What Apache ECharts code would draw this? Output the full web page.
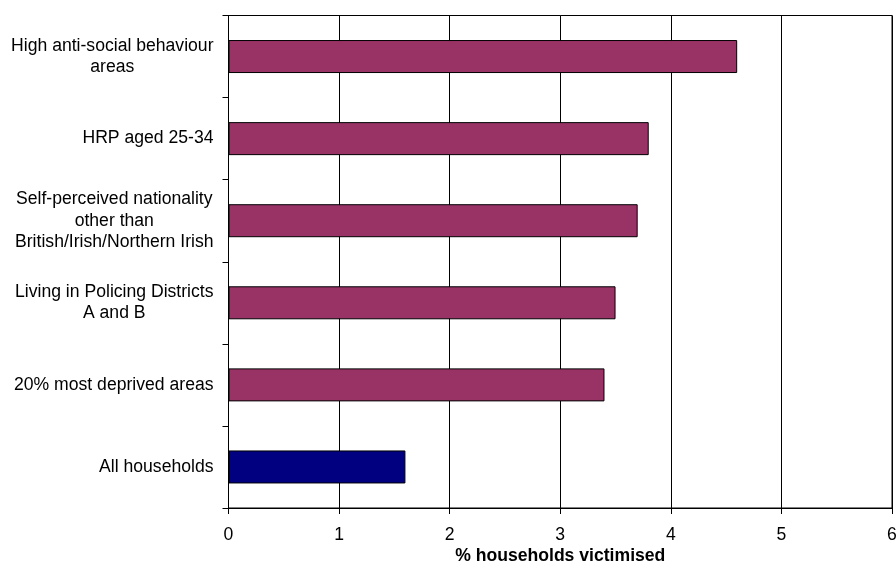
<!DOCTYPE html>
<html>
<head>
<meta charset="utf-8">
<script src="https://cdn.jsdelivr.net/npm/echarts@6/dist/echarts.min.js"></script>
<style>
  html, body { margin: 0; padding: 0; background: #fff; }
  #main { width: 896px; height: 561px; }
</style>
</head>
<body>
<div id="main"></div>
<script>
// categories top to bottom
const categories = [
  'High anti-social behaviour\nareas',
  'HRP aged 25-34',
  'Self-perceived nationality\nother than\nBritish/Irish/Northern Irish',
  'Living in Policing Districts\nA and B',
  '20% most deprived areas',
  'All households'
];
const values = [4.6, 3.8, 3.7, 3.5, 3.4, 1.6];
const barColors = ['#993366', '#993366', '#993366', '#993366', '#993366', '#000080'];
const xTicks = [0, 1, 2, 3, 4, 5, 6];

const font = 'Arial, "Liberation Sans", sans-serif';

const chart = echarts.init(document.getElementById('main'));
chart.setOption({
  animation: false,
  grid: {
    left: 228.5, right: 4, top: 15.5, bottom: 53,
    containLabel: false,
    outerBoundsMode: 'none',
    show: true, borderColor: '#000', borderWidth: 1, backgroundColor: 'transparent'
  },
  xAxis: {
    type: 'value',
    min: xTicks[0],
    max: xTicks[xTicks.length - 1],
    interval: 1,
    name: '% households victimised',
    nameLocation: 'middle',
    nameGap: 39,
    nameMoveOverlap: false,
    nameTextStyle: { fontFamily: font, fontSize: 17.6, fontWeight: 'bold', color: '#000' },
    axisLine: { show: true, lineStyle: { color: '#000', width: 1 } },
    axisTick: { show: true, length: 6, lineStyle: { color: '#000' } },
    axisLabel: { margin: 18, fontFamily: font, fontSize: 17.6, color: '#000' },
    splitLine: { show: true, lineStyle: { color: '#000', width: 1 } }
  },
  yAxis: {
    type: 'category',
    inverse: true,
    data: categories,
    axisLine: { show: true, lineStyle: { color: '#000', width: 1 } },
    axisTick: { show: true, length: 6, lineStyle: { color: '#000' } },
    axisLabel: {
      margin: 15,
      interval: 0,
      formatter: function (v) {
        return v.split('\n').map(function (s) { return '{a|' + s + '}'; }).join('\n');
      },
      rich: {
        a: { fontFamily: font, fontSize: 17.6, lineHeight: 21.6, color: '#000', align: 'center' }
      }
    }
  },
  series: [{
    type: 'bar',
    barWidth: 33,
    data: values.map(function (v, i) {
      return { value: v, itemStyle: { color: barColors[i] } };
    }),
    itemStyle: { borderColor: '#000', borderWidth: 1 }
  }]
});
</script>
</body>
</html>
